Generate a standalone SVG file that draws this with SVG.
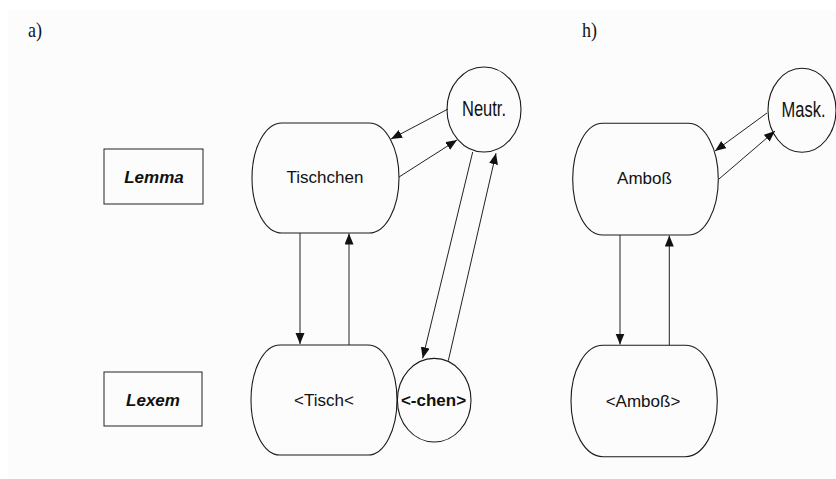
<svg xmlns="http://www.w3.org/2000/svg" width="836" height="479" viewBox="0 0 836 479">
  <defs>
    <marker id="arrow" markerUnits="userSpaceOnUse" markerWidth="12" markerHeight="10" refX="11" refY="4.5" orient="auto">
      <path d="M0,0 L11,4.5 L0,9 Z" fill="#111"/>
    </marker>
    <style>
      .node { fill: none; stroke: #1a1a1a; stroke-width: 1.1; }
      .box { fill: none; stroke: #222; stroke-width: 1; }
      .lbl { font-family: "Liberation Sans", Arial, sans-serif; font-size: 17px; fill: #111; text-anchor: middle; }
      .bold { font-weight: bold; }
      .bi { font-weight: bold; font-style: italic; }
      .tall { font-size: 16.5px; }
      .part { font-family: "Liberation Serif", "Times New Roman", serif; font-size: 18px; fill: #111; }
      .conn line { stroke: #222; stroke-width: 1; marker-end: url(#arrow); }
    </style>
  </defs>

  <rect x="0" y="0" width="836" height="479" fill="#ffffff"/>
  <rect x="8" y="10" width="828" height="469" fill="#fcfcfc"/>

  <!-- panel labels -->
  <text class="part" x="28" y="37" transform="translate(0,-7) scale(1,1.19)">a)</text>
  <text class="part" x="582" y="37" transform="translate(0,-7) scale(1,1.19)">h)</text>

  <!-- level labels -->
  <g id="level-lemma">
    <rect class="box" x="104" y="149" width="99" height="55"/>
    <text class="lbl bi" x="154" y="183">Lemma</text>
  </g>
  <g id="level-lexem">
    <rect class="box" x="104" y="372" width="98" height="54"/>
    <text class="lbl bi" x="153" y="406">Lexem</text>
  </g>

  <!-- panel a -->
  <g id="tischchen">
    <rect class="node" x="252" y="123" width="147" height="110" rx="30" ry="55"/>
    <text class="lbl" x="325" y="183">Tischchen</text>
  </g>
  <g id="neutr">
    <ellipse class="node" cx="484" cy="109.5" rx="37" ry="42.5"/>
    <text class="lbl tall" x="484" y="116" transform="translate(0,-34.8) scale(1,1.3)">Neutr.</text>
  </g>
  <g id="tisch">
    <rect class="node" x="251" y="345" width="146" height="110" rx="29" ry="55"/>
    <text class="lbl" x="324" y="406">&lt;Tisch&lt;</text>
  </g>
  <g id="chen">
    <ellipse class="node" cx="434.2" cy="400.2" rx="36.8" ry="41.8"/>
    <text class="lbl bold" x="433.5" y="406">&lt;-chen&gt;</text>
  </g>

  <!-- panel h -->
  <g id="amboss">
    <rect class="node" x="572.7" y="123.3" width="145.6" height="111.7" rx="30" ry="55.8"/>
    <text class="lbl" x="644.5" y="184">Amboß</text>
  </g>
  <g id="mask">
    <ellipse class="node" cx="802" cy="110.3" rx="34" ry="42"/>
    <text class="lbl tall" x="803.5" y="117" transform="translate(0,-35.1) scale(1,1.3)">Mask.</text>
  </g>
  <g id="amboss-lexem">
    <rect class="node" x="571" y="345.3" width="146.3" height="111.4" rx="32" ry="55.7"/>
    <text class="lbl" x="643" y="407">&lt;Amboß&gt;</text>
  </g>

  <g id="connectors" class="conn">
    <line x1="448" y1="109" x2="391" y2="139"/>
    <line x1="399" y1="177" x2="457" y2="140"/>
    <line x1="472.7" y1="152" x2="422.7" y2="358.3"/>
    <line x1="448.3" y1="360.7" x2="496" y2="153.3"/>
    <line x1="300" y1="233" x2="300" y2="344"/>
    <line x1="349" y1="345" x2="349" y2="233.5"/>
    <line x1="767" y1="113" x2="715" y2="151"/>
    <line x1="719" y1="179" x2="775" y2="131"/>
    <line x1="620" y1="235" x2="620" y2="344.5"/>
    <line x1="669.3" y1="345.3" x2="669.3" y2="235.5"/>
  </g>
</svg>
